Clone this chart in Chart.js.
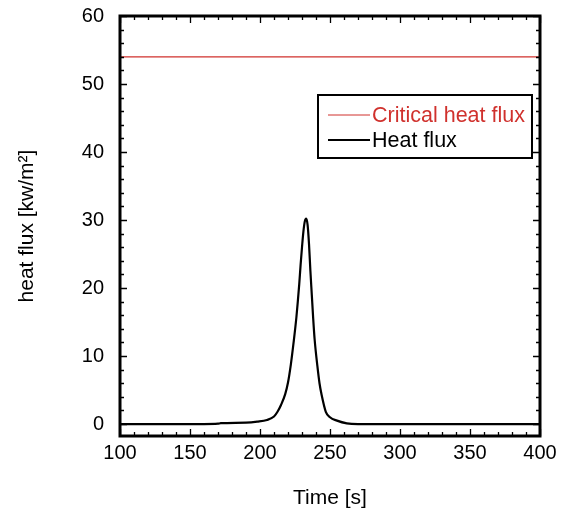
<!DOCTYPE html>
<html>
<head>
<meta charset="utf-8">
<script src="https://cdn.jsdelivr.net/npm/chart.js@4"></script>
<style>
  html, body { margin: 0; padding: 0; background: #fff; }
  #wrap { width: 563px; height: 512px; }
</style>
</head>
<body>
<div id="wrap"><canvas id="flux-chart" width="563" height="512"></canvas></div>
<script>
// time [s] and heat flux [kW/m2]
const times = [100, 160, 170, 172, 190, 198, 205, 210, 212.5, 215, 218, 220, 222, 224, 226,
  227, 228, 229, 230, 231, 232, 233, 234, 235, 236, 237, 238, 239, 241, 242.5, 244, 247,
  250, 255, 262, 270, 400];
const heatFlux = [0, 0, 0.05, 0.12, 0.2, 0.35, 0.6, 1.1, 1.8, 2.8, 4.4, 6.1, 8.7, 12, 15.7,
  18, 20.5, 23.4, 26, 28.3, 29.8, 30.2, 29.3, 26.5, 22.5, 19, 15.5, 12.5, 8.5, 6, 4.3, 1.8,
  1.0, 0.5, 0.1, 0, 0];
const criticalFlux = 54;
const timeRange = [100, 400];

const xTicks = [100, 150, 200, 250, 300, 350, 400];
const yTicks = [0, 10, 20, 30, 40, 50, 60];
const legendLabels = ["Critical heat flux", "Heat flux"];
const legendColors = ["#d0312d", "#000000"];

const FONT = "'Liberation Sans', Arial, sans-serif";

// frame, inward ticks and boxed legend
const framePlugin = {
  id: "frame",
  afterDraw(chart) {
    const ctx = chart.ctx;
    const a = chart.chartArea;
    const xs = chart.scales.x;
    const ys = chart.scales.y;
    ctx.save();
    ctx.strokeStyle = "#000";
    ctx.lineWidth = 1.3;
    // x ticks every 10, major every 50
    for (let v = 100; v <= 400; v += 10) {
      const px = Math.round(xs.getPixelForValue(v)) + 0.5;
      const len = v % 50 === 0 ? 7 : 4;
      ctx.beginPath();
      ctx.moveTo(px, a.bottom);
      ctx.lineTo(px, a.bottom - len);
      ctx.moveTo(px, a.top);
      ctx.lineTo(px, a.top + len);
      ctx.stroke();
    }
    // y ticks every 2, major every 10
    for (let v = 0; v <= 60; v += 2) {
      const py = Math.round(ys.getPixelForValue(v)) + 0.5;
      const len = v % 10 === 0 ? 7 : 4;
      ctx.beginPath();
      ctx.moveTo(a.left, py);
      ctx.lineTo(a.left + len, py);
      ctx.moveTo(a.right, py);
      ctx.lineTo(a.right - len, py);
      ctx.stroke();
    }
    ctx.lineWidth = 3;
    ctx.strokeRect(a.left, a.top, a.right - a.left, a.bottom - a.top);

    // legend box
    const bx = a.right - 222, by = a.top + 79, bw = 214, bh = 63;
    ctx.fillStyle = "#fff";
    ctx.fillRect(bx, by, bw, bh);
    ctx.lineWidth = 2;
    ctx.strokeRect(bx, by, bw, bh);
    ctx.font = "21.5px " + FONT;
    ctx.textBaseline = "middle";
    legendLabels.forEach((label, i) => {
      const ly = by + 20 + i * 25;
      ctx.strokeStyle = legendColors[i];
      ctx.lineWidth = i === 0 ? 1 : 2;
      ctx.beginPath();
      ctx.moveTo(bx + 10, ly);
      ctx.lineTo(bx + 52, ly);
      ctx.stroke();
      ctx.fillStyle = legendColors[i];
      ctx.fillText(label, bx + 54, ly + 1);
    });
    ctx.restore();
  },
};

const ctx = document.getElementById("flux-chart").getContext("2d");
const chart = new Chart(ctx, {
  type: "line",
  data: {
    datasets: [
      {
        label: legendLabels[0],
        data: timeRange.map((t) => ({ x: t, y: criticalFlux })),
        borderColor: legendColors[0],
        borderWidth: 1.2,
        pointRadius: 0,
      },
      {
        label: legendLabels[1],
        data: times.map((t, i) => ({ x: t, y: heatFlux[i] })),
        borderColor: legendColors[1],
        borderWidth: 2.2,
        pointRadius: 0,
        cubicInterpolationMode: "monotone",
      },
    ],
  },
  options: {
    responsive: false,
    animation: false,
    layout: { padding: { top: 16, right: 23, left: 0, bottom: 0 } },
    scales: {
      x: {
        type: "linear",
        min: 100,
        max: 400,
        afterBuildTicks: (scale) => {
          scale.ticks = xTicks.map((v) => ({ value: v }));
        },
        afterFit: (scale) => {
          scale.height = 76;
          scale.paddingLeft = 0;
          scale.paddingRight = 0;
        },
        grid: { display: false, drawTicks: false },
        border: { display: false },
        ticks: {
          color: "#000",
          padding: 5,
          maxRotation: 0,
          font: { family: FONT, size: 20 },
        },
        title: {
          display: true,
          text: "Time [s]",
          color: "#000",
          font: { family: FONT, size: 21 },
          padding: { top: 0, bottom: 1 },
        },
      },
      y: {
        min: -1.76,
        max: 60,
        afterBuildTicks: (scale) => {
          scale.ticks = yTicks.map((v) => ({ value: v }));
        },
        afterFit: (scale) => {
          scale.width = 120;
          scale.paddingTop = 0;
          scale.paddingBottom = 0;
        },
        grid: { display: false, drawTicks: false },
        border: { display: false },
        ticks: {
          color: "#000",
          padding: 16,
          font: { family: FONT, size: 20 },
        },
        title: {
          display: true,
          text: "heat flux [kw/m²]",
          color: "#000",
          font: { family: FONT, size: 21 },
          padding: { top: 15, bottom: 0 },
        },
      },
    },
    plugins: {
      legend: { display: false },
      tooltip: { enabled: false },
    },
  },
  plugins: [framePlugin],
});
</script>
</body>
</html>
